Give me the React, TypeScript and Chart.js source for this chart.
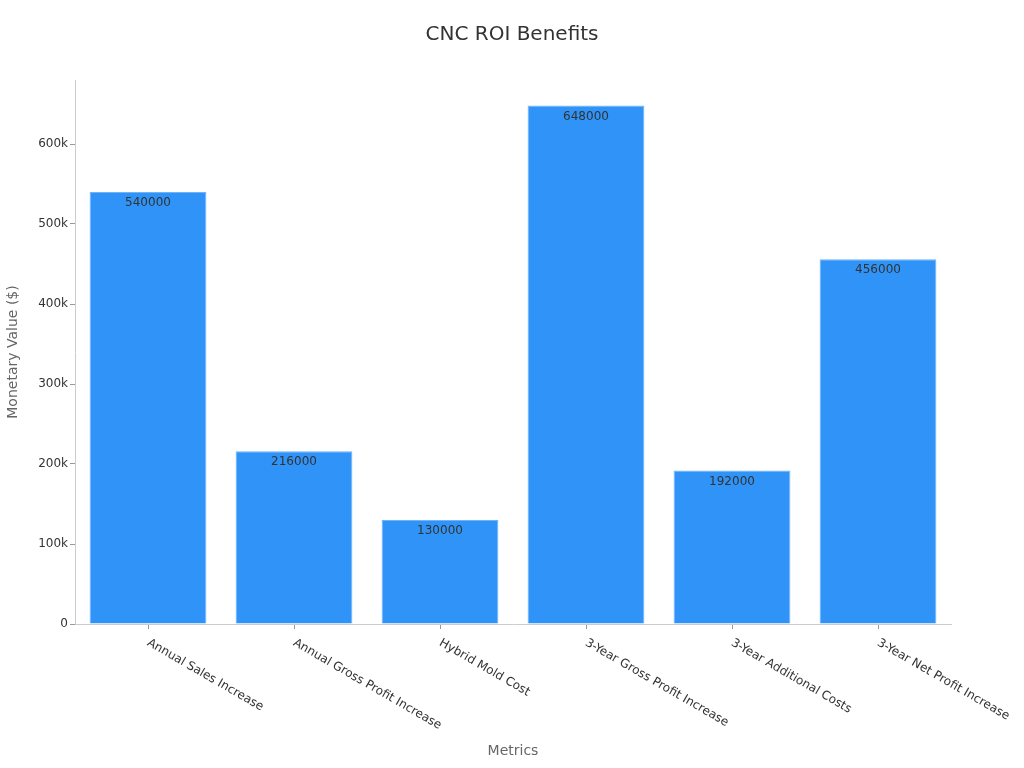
import React, { useEffect, useRef } from 'react';
import { Chart, registerables } from 'chart.js';

Chart.register(...registerables);

const categories = [
  'Annual Sales Increase',
  'Annual Gross Profit Increase',
  'Hybrid Mold Cost',
  '3-Year Gross Profit Increase',
  '3-Year Additional Costs',
  '3-Year Net Profit Increase',
];
const values = [540000, 216000, 130000, 648000, 192000, 456000];
const yTicks = [0, 100000, 200000, 300000, 400000, 500000, 600000];

const FONT = '"DejaVu Sans", Verdana, sans-serif';

// rotated category labels, starting at the tick and running down-right
const xLabelPlugin = {
  id: 'xLabels',
  afterDraw(chart: any) {
    const { ctx } = chart;
    const xs = chart.scales.x;
    ctx.save();
    ctx.font = `12px ${FONT}`;
    ctx.fillStyle = '#333';
    ctx.textAlign = 'left';
    ctx.textBaseline = 'middle';
    categories.forEach((label, i) => {
      const x = xs.getPixelForTick(i);
      ctx.save();
      ctx.translate(x, xs.top + 18);
      ctx.rotate((30 * Math.PI) / 180);
      ctx.fillText(label, 0, 0);
      ctx.restore();
    });
    ctx.restore();
  },
};

// value labels inside the top of each bar
const valueLabelPlugin = {
  id: 'valueLabels',
  afterDatasetsDraw(chart: any) {
    const { ctx } = chart;
    const meta = chart.getDatasetMeta(0);
    ctx.save();
    ctx.font = `12px ${FONT}`;
    ctx.fillStyle = '#333';
    ctx.textAlign = 'center';
    ctx.textBaseline = 'middle';
    meta.data.forEach((bar: any, i: number) => {
      ctx.fillText(String(values[i]), bar.x, bar.y + 11);
    });
    ctx.restore();
  },
};

const BarChart: React.FC = () => {
  const chartRef = useRef<HTMLCanvasElement>(null);
  const chartInstance = useRef<Chart | null>(null);

  useEffect(() => {
    if (!chartRef.current) return;
    chartInstance.current = new Chart(chartRef.current, {
      type: 'bar',
      data: {
        labels: categories,
        datasets: [
          {
            data: values,
            backgroundColor: '#2f93f7',
            borderColor: '#6fb4f8',
            borderWidth: 1,
            categoryPercentage: 0.8,
            barPercentage: 1,
          },
        ],
      },
      options: {
        responsive: false,
        animation: false,
        plugins: {
          legend: { display: false },
          tooltip: { enabled: false },
          title: {
            display: true,
            text: 'CNC ROI Benefits',
            color: '#333',
            font: { family: FONT, size: 20, weight: 'normal' },
            padding: { top: 23, bottom: 33 },
          },
        },
        scales: {
          x: {
            grid: { offset: false, drawOnChartArea: false, drawTicks: true, tickLength: 5, color: '#999' },
            border: { display: true, color: '#ccc' },
            ticks: { display: false },
            title: {
              display: true,
              text: 'Metrics',
              color: '#666',
              font: { family: FONT, size: 14 },
              padding: { top: 0, bottom: 8 },
            },
            afterFit(scale: any) {
              scale.height = 144;
            },
          },
          y: {
            min: 0,
            max: 680000,
            grid: { drawOnChartArea: false, drawTicks: true, tickLength: 5, color: '#999' },
            border: { display: true, color: '#ccc' },
            afterBuildTicks(scale: any) {
              scale.ticks = yTicks.map((v) => ({ value: v }));
            },
            ticks: {
              color: '#333',
              font: { family: FONT, size: 12 },
              padding: 2,
              callback: (v: any) => (v === 0 ? '0' : `${Number(v) / 1000}k`),
            },
            title: {
              display: true,
              text: 'Monetary Value ($)',
              color: '#666',
              font: { family: FONT, size: 14 },
              padding: { top: 5, bottom: 0 },
            },
            afterFit(scale: any) {
              scale.width = 75;
            },
          },
          // empty right-hand axis that only reserves the right margin
          spacer: {
            type: 'linear',
            position: 'right',
            display: true,
            grid: { display: false },
            border: { display: false },
            ticks: { display: false },
            afterFit(scale: any) {
              scale.width = 73;
            },
          },
        },
      },
      plugins: [xLabelPlugin, valueLabelPlugin],
    });

    return () => {
      if (chartInstance.current) {
        chartInstance.current.destroy();
        chartInstance.current = null;
      }
    };
  }, []);

  return <canvas ref={chartRef} width={1024} height={768} />;
};

export default function App() {
  return (
    <div style={{ position: 'fixed', left: 0, top: 0, width: 1024, height: 768, background: '#fff' }}>
      <BarChart />
    </div>
  );
}
